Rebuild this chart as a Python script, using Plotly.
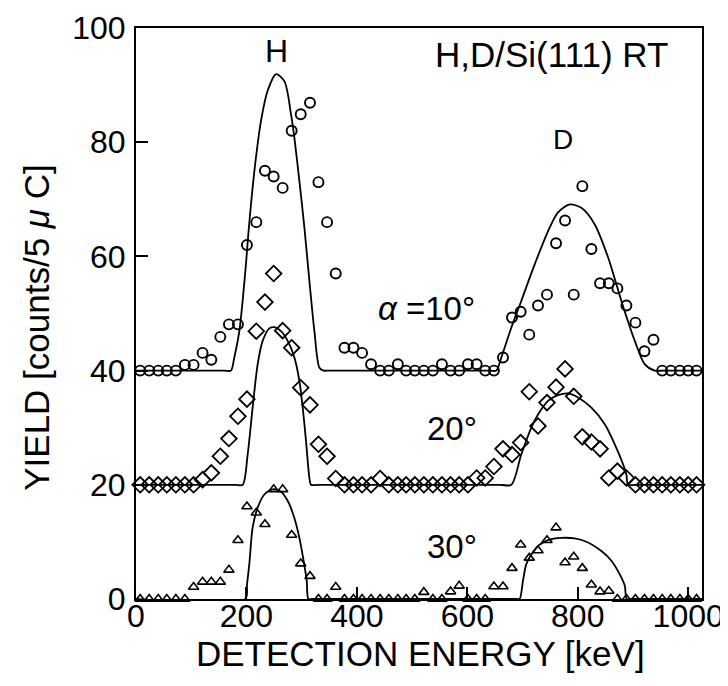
import plotly.graph_objects as go

# ---- data ----
energy = [7.6, 23.9, 40.3, 55.8, 72.2, 88.5, 104.3, 120.6, 136.4, 152.7,
          168.3, 184.6, 200.9, 217.9, 233.5, 249.3, 265.6, 281.9, 298.3, 315.1,
          330.4, 346.0, 361.7, 377.5, 393.8, 409.4, 425.7, 442.1, 457.8, 474.2,
          489.2, 505.0, 521.3, 537.6, 554.0, 569.7, 585.3, 601.1, 616.9, 632.5,
          648.2, 664.6, 680.9, 696.6, 712.2, 728.0, 744.3, 760.7, 777.0, 792.7,
          808.3, 824.7, 840.4, 856.2, 871.8, 888.1, 904.4, 920.8, 937.1, 952.9,
          968.6, 984.9, 1000.0, 1015.1]

yield_10 = [40, 40, 40, 40, 40, 41.0, 41.0, 43.1, 41.9, 45.9,
            48.1, 48.1, 62.0, 66.0, 75.0, 74.0, 72.0, 82.0, 84.9, 86.9,
            73.0, 66.0, 57.0, 44.0, 44.0, 43.1, 41.1, 40, 40, 41.1,
            40, 40, 40, 40, 41.1, 40, 40, 41.1, 41.1, 40,
            40, 42.3, 49.3, 50.3, 46.3, 51.4, 53.3, 62.3, 66.3, 53.3,
            72.3, 61.3, 55.3, 55.3, 54.4, 51.4, 48.4, 43.4, 45.4, 40,
            40, 40, 40, 40]

yield_20 = [20, 20, 20, 20, 20, 20, 20, 20.9, 22.1, 25.0,
            28.1, 32.0, 35.0, 46.9, 52.0, 57.0, 47.0, 44.0, 37.0, 34.0,
            27.1, 25.0, 21.1, 20, 20, 20, 20, 21.1, 20, 20,
            20, 20, 20, 20, 20, 20, 20, 20, 21.2, 21.2,
            23.2, 26.3, 25.3, 27.4, 36.3, 30.3, 34.4, 37.1, 40.3, 35.5,
            28.4, 27.5, 26.3, 21.2, 22.4, 21.2, 20, 20, 20, 20,
            20, 20, 20, 20]

yield_30 = [0, 0, 0, 0, 0, 0, 2.1, 3.0, 3.0, 3.0,
            5.1, 10.3, 16.2, 15.1, 13.1, 19.2, 19.2, 11.2, 6.2, 4.0,
            0, 0, 2.1, 0, 0, 0, 0, 0, 0, 0,
            0, 0, 1.2, 0, 0, 1.3, 2.3, 0, 0, 0,
            2.2, 2.2, 5.4, 9.5, 7.2, 8.5, 10.3, 12.5, 6.4, 7.4,
            5.4, 2.5, 1.3, 1.4, 0, 0, 0, 0, 0, 0,
            0, 0, 0, 0]

fit10_x = [0, 160, 171.9, 178, 187.1, 193.1, 199.1, 203.4, 209.4, 217.2, 226.3,
           238.4, 253.5, 268.7, 280.7, 286.8, 295.9, 305, 314, 323.1, 332.2, 340,
           350, 640, 652.4, 661.5, 679.6, 697.7, 722, 746.1, 764.3, 785.5, 806.5,
           830.8, 855, 879, 903.3, 921.5, 939.6, 955, 1025]
fit10_y = [40, 40, 40, 42.3, 46.9, 52.2, 58.6, 63.9, 70.3, 77.3, 83.7,
           89.0, 91.9, 90.7, 84.9, 80.8, 73.2, 65.0, 55.7, 46.9, 40.5, 40,
           40, 40, 40, 42.3, 47.5, 52.2, 58.6, 64.4, 67.7, 69.1, 68.5,
           65.6, 59.8, 52.2, 45.2, 41.1, 40, 40, 40]

fit20_x = [0, 180, 193.1, 202.2, 211.2, 220.3, 229.4, 241.5, 250.6, 262.6, 274.7,
           286.8, 295.9, 301.9, 307.9, 314, 317, 330, 660, 679.6, 697.7, 715.9,
           728, 746.1, 764.3, 782.4, 800.5, 824.7, 848.9, 867, 882.1, 888.1,
           891.2, 905, 1025]
fit20_y = [20, 20, 20, 25.3, 33.5, 41.1, 45.2, 47.4, 47.6, 46.9, 45.2,
           42.3, 38.2, 33.5, 27.7, 21.2, 20, 20, 20, 20, 25.3, 30.0,
           32.3, 34.7, 35.7, 36.0, 35.3, 33.5, 30.6, 27.1, 23.6, 21.8,
           20, 20, 20]

fit30_x = [0, 198, 201, 205.2, 211.2, 220.3, 232.4, 247.5, 262.6, 274.7, 286.8,
           295.9, 303.7, 309.2, 312.2, 320, 690, 694.8, 700.8, 706.8, 715.9,
           728, 746.1, 770.3, 794.6, 818.7, 842.8, 860.9, 876.1, 885.2, 888.8,
           900, 1025]
fit30_y = [0, 0, 2.5, 6.1, 12.5, 16.0, 18.3, 19.2, 18.8, 17.2, 14.2,
           10.7, 6.6, 3.2, 0, 0, 0, 0, 3.2, 6.1, 7.8,
           9.3, 10.3, 10.7, 10.6, 9.9, 8.4, 6.7, 4.3, 2.3, 0,
           0, 0]

x_ticks = [0, 200, 400, 600, 800, 1000]
y_ticks = [0, 20, 40, 60, 80, 100]

FONT = "Liberation Sans, Arial, Helvetica, sans-serif"

fig = go.Figure()

for fx, fy in [(fit10_x, fit10_y), (fit20_x, fit20_y), (fit30_x, fit30_y)]:
    fig.add_trace(go.Scatter(x=fx, y=fy, mode="lines",
                             line=dict(color="black", width=1.8, shape="spline", smoothing=0.8),
                             showlegend=False, hoverinfo="skip"))

fig.add_trace(go.Scatter(x=energy, y=yield_10, mode="markers", cliponaxis=False,
                         marker=dict(symbol="circle-open", size=10, color="black",
                                     line=dict(width=1.9, color="black")),
                         showlegend=False))
fig.add_trace(go.Scatter(x=energy, y=yield_20, mode="markers", cliponaxis=False,
                         marker=dict(symbol="diamond-open", size=12, color="black",
                                     line=dict(width=1.8, color="black")),
                         showlegend=False))
fig.add_trace(go.Scatter(x=energy, y=yield_30, mode="markers", cliponaxis=False,
                         marker=dict(symbol="triangle-up-open", size=9, color="black",
                                     line=dict(width=1.6, color="black")),
                         showlegend=False))

axis_common = dict(showline=True, linewidth=2, linecolor="black", mirror=True,
                   ticks="inside", ticklen=12, tickwidth=1.5, tickcolor="black",
                   showgrid=False, zeroline=False,
                   tickfont=dict(family=FONT, size=32, color="black"))

fig.update_xaxes(range=[0, 1025], tickvals=x_ticks, ticktext=[str(v) for v in x_ticks],
                 ticklabelstandoff=-12, **axis_common)
fig.update_yaxes(range=[0, 100], tickvals=y_ticks, ticktext=[str(v) for v in y_ticks],
                 ticklabelstandoff=2, **axis_common)

annots = [
    dict(x=255, y=96.0, text="H", size=32),
    dict(x=773, y=80.4, text="D", size=28),
    dict(x=752, y=95.4, text="H,D/Si(111) RT", size=35),
    dict(x=526, y=50.9, text="<i>α</i> =10°", size=33),
    dict(x=572, y=29.9, text="20°", size=33),
    dict(x=572, y=9.2, text="30°", size=33),
]
for a in annots:
    fig.add_annotation(x=a["x"], y=a["y"], xref="x", yref="y", text=a["text"],
                       showarrow=False, xanchor="center", yanchor="middle",
                       font=dict(family=FONT, size=a["size"], color="black"))

fig.add_annotation(x=0.5027, y=0, xref="paper", yref="paper", yshift=-54,
                   text="DETECTION ENERGY [keV]", showarrow=False,
                   xanchor="center", yanchor="middle",
                   font=dict(family=FONT, size=35, color="black"))
fig.add_annotation(x=0, y=0.475, xref="paper", yref="paper", xshift=-99,
                   text="YIELD [counts/5 <i>μ</i> C]", showarrow=False, textangle=-90,
                   xanchor="center", yanchor="middle",
                   font=dict(family=FONT, size=35, color="black"))

fig.update_layout(width=728, height=686,
                  margin=dict(l=128, r=34, t=20, b=95, autoexpand=False),
                  paper_bgcolor="white", plot_bgcolor="white")

fig.write_html("out.html")
